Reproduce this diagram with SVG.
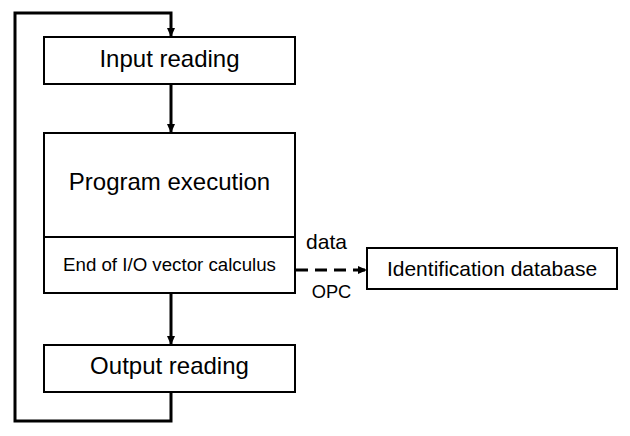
<svg xmlns="http://www.w3.org/2000/svg" width="630" height="436" viewBox="0 0 630 436">
<style>
.box{fill:#fff;stroke:#000;stroke-width:2}
.ln{fill:none;stroke:#000;stroke-width:3}
.t{font-family:"Liberation Sans",Arial,sans-serif;fill:#000;text-anchor:middle}
.big{font-size:24px}
.mid{font-size:18.7px}
.id{font-size:21px}
</style>
<defs>
<marker id="ah" markerWidth="10" markerHeight="10" refX="8" refY="5" orient="auto" markerUnits="userSpaceOnUse">
<path d="M0,1 L9,5 L0,9 Z" fill="#000"/>
</marker>
</defs>
<rect width="630" height="436" fill="#fff"/>
<g id="connectors">
<path class="ln" d="M171,392 V421 H15 V13 H171 V36" marker-end="url(#ah)"/>
<path class="ln" d="M171,84 V132" marker-end="url(#ah)"/>
<path class="ln" d="M171,293 V344" marker-end="url(#ah)"/>
<path class="ln" d="M296,270 H366" stroke-dasharray="12,7" marker-end="url(#ah)"/>
<text class="t" style="font-size:21px" x="326.5" y="249">data</text>
<text class="t" style="font-size:18.3px" x="331.5" y="298">OPC</text>
</g>
<g id="input-reading">
<rect class="box" x="44" y="37" width="251" height="47"/>
<text class="t big" x="169.5" y="67">Input reading</text>
</g>
<g id="program-execution">
<rect class="box" x="44" y="133" width="251" height="160"/>
<line x1="44" y1="237" x2="295" y2="237" stroke="#000" stroke-width="2"/>
<text class="t big" x="169.5" y="190">Program execution</text>
<text class="t mid" x="169.5" y="271">End of I/O vector calculus</text>
</g>
<g id="output-reading">
<rect class="box" x="44" y="345" width="251" height="47"/>
<text class="t big" x="169.5" y="374">Output reading</text>
</g>
<g id="identification-database">
<rect class="box" x="367" y="248" width="250" height="41"/>
<text class="t id" x="492" y="276">Identification database</text>
</g>
</svg>
